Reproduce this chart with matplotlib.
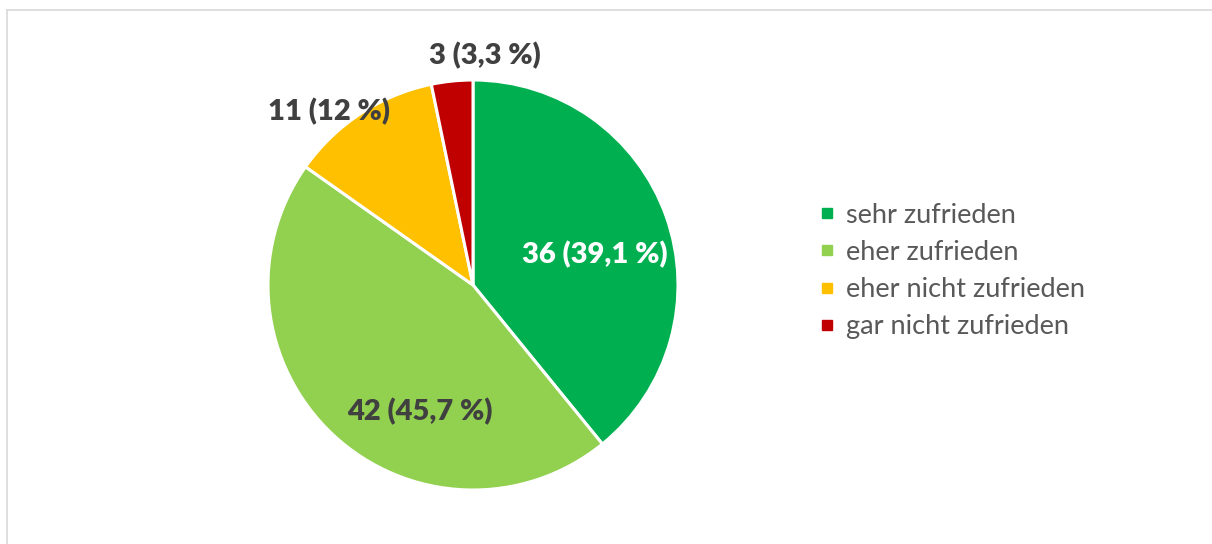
import matplotlib.pyplot as plt
from matplotlib.lines import Line2D
import numpy as np

# data
categories = ['sehr zufrieden', 'eher zufrieden', 'eher nicht zufrieden', 'gar nicht zufrieden']
counts = [36, 42, 11, 3]
pct_text = ['39,1', '45,7', '12', '3,3']
colors = ['#00B050', '#92D050', '#FFC000', '#C00000']
label_colors = ['white', '#404040', '#404040', '#404040']

# label placement (angle in deg, distance in radii) - layout only
label_layout = [(14, 0.61), (-113, 0.67), (129.6, 1.10), (87, 1.12)]

plt.rcParams['font.family'] = ['Lato', 'DejaVu Sans']

fig = plt.figure(figsize=(12.12, 5.44), dpi=100)
W, H = 1212, 544
cx, cy, r = 473, 259, 205
lim = 1.2
side = 2 * lim * r
ax = fig.add_axes([(cx - side / 2) / W, (cy - side / 2) / H, side / W, side / H])

wedges, _ = ax.pie(counts, colors=colors, startangle=90, counterclock=False,
                   wedgeprops=dict(edgecolor='white', linewidth=2.2))
ax.set_xlim(-lim, lim)
ax.set_ylim(-lim, lim)
ax.set_aspect('equal')
ax.axis('off')

for (ang, d), n, p, c in zip(label_layout, counts, pct_text, label_colors):
    a = np.deg2rad(ang)
    ax.text(d * np.cos(a), d * np.sin(a), '%d (%s %%)' % (n, p), ha='center', va='center',
            fontsize=21, fontweight='heavy', color=c)

handles = [Line2D([], [], marker='s', linestyle='none', markersize=7, markerfacecolor=col,
                  markeredgecolor=col) for col in colors]
fig.legend(handles, categories, loc='center left', bbox_to_anchor=(803 / W, 1 - 271 / H),
           frameon=False, fontsize=19.5, labelcolor='#595959', handletextpad=0.2,
           labelspacing=0.45, handlelength=1.0, borderaxespad=0)

# chart frame
fig.add_artist(Line2D([7 / W, 7 / W], [0, 1 - 10 / H], color='#D9D9D9', linewidth=1.2))
fig.add_artist(Line2D([7 / W, 1], [1 - 10 / H, 1 - 10 / H], color='#D9D9D9', linewidth=1.2))

fig.savefig('out.png', dpi=100)
